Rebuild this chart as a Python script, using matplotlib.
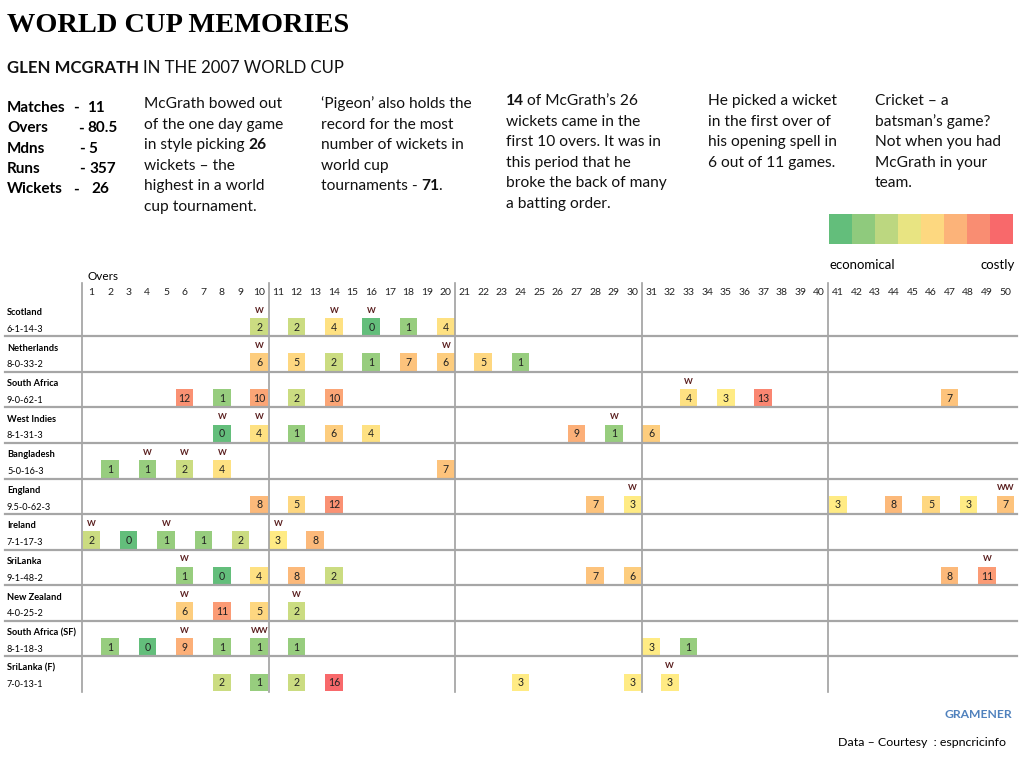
import numpy as np
import matplotlib
matplotlib.use('Agg')
import matplotlib.pyplot as plt
from matplotlib.colors import LinearSegmentedColormap, Normalize
from matplotlib.patches import Rectangle

# data
teams = ["Scotland", "Netherlands", "South Africa", "West Indies", "Bangladesh",
         "England", "Ireland", "SriLanka", "New Zealand", "South Africa (SF)", "SriLanka (F)"]
figures = ["6-1-14-3", "8-0-33-2", "9-0-62-1", "8-1-31-3", "5-0-16-3", "9.5-0-62-3",
           "7-1-17-3", "9-1-48-2", "4-0-25-2", "8-1-18-3", "7-0-13-1"]
over_no = [
    [10, 12, 14, 16, 18, 20],
    [10, 12, 14, 16, 18, 20, 22, 24],
    [6, 8, 10, 12, 14, 33, 35, 37, 47],
    [8, 10, 12, 14, 16, 27, 29, 31],
    [2, 4, 6, 8, 20],
    [10, 12, 14, 28, 30, 41, 44, 46, 48, 50],
    [1, 3, 5, 7, 9, 11, 13],
    [6, 8, 10, 12, 14, 28, 30, 47, 49],
    [6, 8, 10, 12],
    [2, 4, 6, 8, 10, 12, 31, 33],
    [8, 10, 12, 14, 24, 30, 32],
]
runs = [
    [2, 2, 4, 0, 1, 4],
    [6, 5, 2, 1, 7, 6, 5, 1],
    [12, 1, 10, 2, 10, 4, 3, 13, 7],
    [0, 4, 1, 6, 4, 9, 1, 6],
    [1, 1, 2, 4, 7],
    [8, 5, 12, 7, 3, 3, 8, 5, 3, 7],
    [2, 0, 1, 1, 2, 3, 8],
    [1, 0, 4, 8, 2, 7, 6, 8, 11],
    [6, 11, 5, 2],
    [1, 0, 9, 1, 1, 1, 3, 1],
    [2, 1, 2, 16, 3, 3, 3],
]
wkts = [
    [1, 0, 1, 1, 0, 0],
    [1, 0, 0, 0, 0, 1, 0, 0],
    [0, 0, 0, 0, 0, 1, 0, 0, 0],
    [1, 1, 0, 0, 0, 0, 1, 0],
    [0, 1, 1, 1, 0],
    [0, 0, 0, 0, 1, 0, 0, 0, 0, 2],
    [1, 0, 1, 0, 0, 1, 0],
    [1, 0, 0, 0, 0, 0, 0, 0, 1],
    [1, 0, 0, 1],
    [0, 0, 1, 0, 2, 0, 0, 0],
    [0, 0, 0, 0, 0, 0, 1],
]
stat_names = ["Matches", "Overs", "Mdns", "Runs", "Wickets"]
stat_vals = ["11", "80.5", "5", "357", "26"]

W, H = 1024, 768
fig = plt.figure(figsize=(W / 100, H / 100), dpi=100)
SANS = 'Lato'

def fx(x):
    return x / W

def fy(y):
    return 1 - y / H

renderer = fig.canvas.get_renderer()

def space_w(size, bold):
    weight = 'bold' if bold else 'normal'
    a = fig.text(0, 0, 'x x', fontsize=size, family=SANS, weight=weight)
    b = fig.text(0, 0, 'xx', fontsize=size, family=SANS, weight=weight)
    d = a.get_window_extent(renderer).width - b.get_window_extent(renderer).width
    a.remove(); b.remove()
    return d

def runs_line(x, y, parts, size, color='#111111'):
    # draw a line made of (text, bold) pieces one after the other
    for s, bold in parts:
        if s.startswith(' '):
            x += space_w(size, bold)
            s = s[1:]
        t = fig.text(fx(x), fy(y), s, fontsize=size, family=SANS,
                     weight='bold' if bold else 'normal', va='center', color=color)
        x += t.get_window_extent(renderer).width
        if s[-1].isdigit():
            x -= 1.5

# header
fig.text(fx(7), fy(25), "WORLD CUP MEMORIES", fontsize=20.4, family='Liberation Serif',
         weight='bold', va='center', color='#000000')
runs_line(7, 68, [("GLEN MCGRATH", True), (" IN THE 2007 WORLD CUP", False)], 12.1)

for i, (n, v) in enumerate(zip(stat_names, stat_vals)):
    y = 108 + i * 20.3
    fig.text(fx(7), fy(y), n, fontsize=11, family=SANS, weight='bold', va='center')
    fig.text(fx([76, 81, 82, 82, 76][i]), fy(y), "-", fontsize=11, family=SANS,
             weight='bold', va='center', ha='center')
    fig.text(fx([87, 87, 88, 89, 91][i]), fy(y), v, fontsize=11, family=SANS,
             weight='bold', va='center')

LS = 20.6
col1 = [[("McGrath bowed out", False)], [("of the one day game", False)],
        [("in style picking ", False), ("26", True)], [("wickets – the", False)],
        [("highest in a world", False)], [("cup tournament.", False)]]
col2 = [[("‘Pigeon’ also holds the", False)], [("record for the most", False)],
        [("number of wickets in", False)], [("world cup", False)],
        [("tournaments - ", False), ("71", True), (".", False)]]
col3 = [[("14", True), (" of McGrath’s 26", False)], [("wickets came in the", False)],
        [("first 10 overs. It was in", False)], [("this period that he", False)],
        [("broke the back of many", False)], [("a batting order.", False)]]
col4 = [[("He picked a wicket", False)], [("in the first over of", False)],
        [("his opening spell in", False)], [("6 out of 11 games.", False)]]
col5 = [[("Cricket – a", False)], [("batsman’s game?", False)],
        [("Not when you had", False)], [("McGrath in your", False)], [("team.", False)]]
for x0, y0, col in [(144, 104, col1), (321, 104, col2), (506, 101, col3),
                    (708, 101, col4), (875, 101, col5)]:
    for j, line in enumerate(col):
        runs_line(x0, y0 + j * LS, line, 11.2)

# colour scale like Excel's green-yellow-red
cmap = LinearSegmentedColormap.from_list(
    'gyr', [(0, '#63BE7B'), (3 / 16, '#FFEB84'), (1, '#F8696B')])
norm = Normalize(0, 16)
leg_cmap = LinearSegmentedColormap.from_list(
    'gyr2', [(0, '#63BE7B'), (0.5, '#FFEB84'), (1, '#F8696B')])

lax = fig.add_axes([fx(829), fy(244), fx(1013) - fx(829), fy(214) - fy(244)])
lax.imshow(np.arange(8)[None, :], cmap=leg_cmap, aspect='auto')
lax.axis('off')
fig.text(fx(829), fy(265), "economical", fontsize=9.5, family=SANS, va='center')
fig.text(fx(1015), fy(265), "costly", fontsize=9.5, family=SANS, va='center', ha='right')

# grid of overs
ax = fig.add_axes([fx(82), fy(692), fx(1015) - fx(82), fy(283) - fy(692)])
ax.set_xlim(0.5, 50.5)
ax.set_ylim(11, -0.5)
ax.axis('off')

for b in [0.5, 10.5, 20.5, 30.5, 40.5]:
    ax.plot([b, b], [-0.5, 11], color='#A0A0A0', lw=1.2, clip_on=False)
for r in range(1, 11):
    ax.plot([-3.65, 50.6], [r, r], color='#A6A6A6', lw=1.6, clip_on=False)

ax.text(0.8, -0.68, "Overs", fontsize=8.5, family=SANS, va='center', ha='left',
        clip_on=False)
for o in range(1, 51):
    ax.text(o, -0.23, str(o), fontsize=7.5, family=SANS, va='center', ha='center',
            color='#222222')

for r in range(len(teams)):
    ax.text(-3.52, r + 0.33, teams[r], fontsize=6.7, family=SANS, weight='bold',
            va='center', ha='left', clip_on=False)
    ax.text(-3.52, r + 0.8, figures[r], fontsize=6.6, family=SANS,
            va='center', ha='left', clip_on=False)
    for o, v, w in zip(over_no[r], runs[r], wkts[r]):
        ax.add_patch(Rectangle((o - 0.47, r + 0.48), 0.94, 0.5,
                               facecolor=cmap(norm(v)), edgecolor='none'))
        ax.text(o, r + 0.74, str(v), fontsize=7.6, family=SANS, va='center',
                ha='center', color='#222222')
        if w:
            ax.text(o, r + 0.26, "W" * w, fontsize=6, family=SANS, weight='bold',
                    va='center', ha='center', color='#5A1F1F')

fig.text(fx(1012), fy(715), "GRAMENER", fontsize=8.7, family=SANS, weight='bold',
         color='#4F81BD', va='center', ha='right')
fig.text(fx(838), fy(742), "Data – Courtesy  : espncricinfo", fontsize=8.9, family=SANS,
         va='center', ha='left')

fig.savefig('out.png', dpi=100)
